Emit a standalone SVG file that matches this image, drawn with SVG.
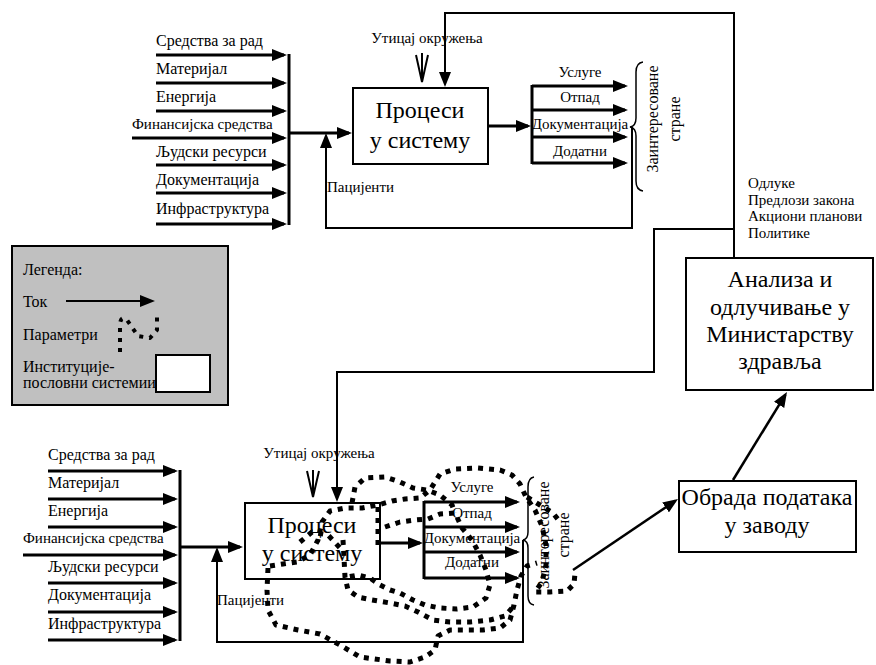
<svg xmlns="http://www.w3.org/2000/svg" width="876" height="665" viewBox="0 0 876 665">
<style>
text{font-family:"Liberation Serif","Times New Roman",serif;fill:#000}
.lbl{font-size:16px}
.fin{font-size:15px}
.sm{font-size:15px}
.mid{text-anchor:middle}
.big{font-size:24px;text-anchor:middle}
.box{fill:#fff;stroke:#000;stroke-width:2}
.flow{fill:none;stroke:#000;stroke-width:3;marker-end:url(#ah)}
.bar{fill:none;stroke:#000;stroke-width:3}
.linka{fill:none;stroke:#000;stroke-width:2;marker-end:url(#ah)}
.open{fill:none;stroke:#000;stroke-width:2}
.brace{fill:none;stroke:#000;stroke-width:1.5}
.dots{fill:none;stroke:#000;stroke-width:5;stroke-dasharray:5 6;stroke-linejoin:round}
</style>
<defs>
<marker id="ah" markerUnits="userSpaceOnUse" markerWidth="15" markerHeight="12" refX="12" refY="6" orient="auto">
<path d="M0,0 L15,6 L0,12 z" fill="#000"/>
</marker>
</defs>

<!-- legend -->
<g id="legend">
<rect x="12" y="246" width="216" height="159" fill="#c0c0c0" stroke="#000" stroke-width="2"/>
<text class="lbl" x="23" y="275">Легенда:</text>
<text class="lbl" x="23" y="307">Ток</text>
<path class="linka" d="M66,301 H152"/>
<text class="lbl" x="23" y="340">Параметри</text>
<path class="dots" style="stroke-width:4;stroke-dasharray:4 6" d="M120,352 L120,324 Q121,315 127,320 L138,336 L150,338 L157,330 L157,316"/>
<text class="lbl" x="23" y="372">Институције-</text>
<text class="lbl" x="23" y="388">пословни системии</text>
<rect x="156" y="355" width="54" height="37" fill="#fff" stroke="#000" stroke-width="2"/>
</g>

<!-- upper system: inputs -->
<g id="inputs-top">
<text class="lbl" x="156" y="46">Средства за рад</text>
<text class="lbl" x="156" y="74">Материјал</text>
<text class="lbl" x="156" y="102">Енергија</text>
<text class="fin" x="132" y="129">Финансијска средства</text>
<text class="lbl" x="156" y="157">Људски ресурси</text>
<text class="lbl" x="156" y="185">Документација</text>
<text class="lbl" x="156" y="214">Инфраструктура</text>
</g>

<!-- lower system: inputs -->
<g id="inputs-bottom">
<text class="lbl" x="48" y="460">Средства за рад</text>
<text class="lbl" x="48" y="488">Материјал</text>
<text class="lbl" x="48" y="516">Енергија</text>
<text class="fin" x="23" y="543">Финансијска средства</text>
<text class="lbl" x="48" y="572">Људски ресурси</text>
<text class="lbl" x="48" y="600">Документација</text>
<text class="lbl" x="48" y="629">Инфраструктура</text>
</g>

<g id="process-top">
<rect class="box" x="353" y="88" width="135" height="76"/>
<text class="big" x="420" y="118">Процеси</text>
<text class="big" x="420" y="148">у систему</text>
<text class="sm mid" x="427" y="43">Утицај окружења</text>
<text class="sm" x="327" y="192">Пацијенти</text>
</g>

<g id="outputs-top">
<text class="sm mid" x="580" y="77">Услуге</text>
<text class="sm mid" x="580" y="102">Отпад</text>
<text class="sm mid" x="580" y="129">Документација</text>
<text class="sm mid" x="580" y="156">Додатни</text>
<path class="brace" d="M643,62 Q636,63 636,72 V118 Q636,126 630,127 Q636,128 636,136 V181 Q636,190 643,191"/>
<text class="lbl mid" transform="translate(658,119) rotate(-90)">Заинтересоване</text>
<text class="lbl mid" transform="translate(680,119) rotate(-90)">стране</text>
</g>

<g id="process-bottom">
<rect class="box" x="245" y="503" width="135" height="76"/>
<text class="big" x="312" y="533">Процеси</text>
<text class="big" x="312" y="561">у систему</text>
<text class="sm mid" x="319" y="458">Утицај окружења</text>
<text class="sm" x="217" y="605">Пацијенти</text>
</g>

<g id="outputs-bottom">
<text class="sm mid" x="472" y="492">Услуге</text>
<text class="sm mid" x="472" y="518">Отпад</text>
<text class="sm mid" x="472" y="543">Документација</text>
<text class="sm mid" x="472" y="567">Додатни</text>
<path class="brace" d="M534,477 Q528,478 528,487 V532 Q528,539 523,540 Q528,541 528,548 V596 Q528,604 534,605"/>
<text class="lbl mid" transform="translate(549,535) rotate(-90)">Заинтересоване</text>
<text class="lbl mid" transform="translate(569,535) rotate(-90)">стране</text>
</g>

<g id="decisions">
<text class="sm" x="748" y="188">Одлуке</text>
<text class="sm" x="748" y="205">Предлози закона</text>
<text class="sm" x="748" y="221">Акциони планови</text>
<text class="sm" x="748" y="238">Политике</text>
</g>

<g id="ministry">
<rect class="box" x="686" y="258" width="187" height="132"/>
<text class="big" x="780" y="287">Анализа и</text>
<text class="big" x="780" y="315">одлучивање у</text>
<text class="big" x="780" y="342">Министарству</text>
<text class="big" x="780" y="369">здравља</text>
</g>

<g id="institute">
<rect class="box" x="679" y="481" width="177" height="71"/>
<text class="big" x="767" y="505">Обрада података</text>
<text class="big" x="767" y="533">у заводу</text>
</g>

<g id="connectors">
<!-- upper inputs -->
<path class="flow" d="M156,55 H284"/>
<path class="flow" d="M156,83 H284"/>
<path class="flow" d="M156,111 H284"/>
<path class="flow" d="M132,138 H284"/>
<path class="flow" d="M156,165 H284"/>
<path class="flow" d="M156,193 H284"/>
<path class="flow" d="M156,224 H284"/>
<path class="bar" d="M289,54 V225"/>
<path class="flow" d="M289,133 H349"/>
<path class="linka" d="M632,127 V228 H326 V136"/>
<!-- upper outputs -->
<path class="flow" d="M488,126 H528"/>
<path class="bar" d="M532,85 V164"/>
<path class="flow" d="M532,86 H625"/>
<path class="flow" d="M532,110 H625"/>
<path class="flow" d="M532,137 H625"/>
<path class="flow" d="M532,163 H625"/>
<!-- environment influence and decisions fed back -->
<path class="open" d="M422,53 V82 M416,55 L422,82 L428,55"/>
<path class="linka" d="M734,258 V13 H445 V84"/>
<path class="linka" d="M734,229 H654 V372 H337 V499"/>
<!-- lower inputs -->
<path class="flow" d="M48,471 H175"/>
<path class="flow" d="M48,499 H175"/>
<path class="flow" d="M48,527 H175"/>
<path class="flow" d="M23,555 H175"/>
<path class="flow" d="M48,583 H175"/>
<path class="flow" d="M48,612 H175"/>
<path class="flow" d="M48,640 H175"/>
<path class="bar" d="M180,470 V641"/>
<path class="flow" d="M180,547 H240"/>
<path class="linka" d="M523,540 V642 H217 V550"/>
<!-- lower outputs -->
<path class="flow" d="M380,543 H420"/>
<path class="bar" d="M424,501 V579"/>
<path class="flow" d="M424,502 H517"/>
<path class="flow" d="M424,527 H517"/>
<path class="flow" d="M424,552 H517"/>
<path class="flow" d="M424,578 H517"/>
<path class="open" d="M313,470 V497 M307,471 L313,497 L319,471"/>
<!-- reporting chain -->
<path class="linka" style="stroke-width:2.5" d="M573,570 L675.5,500.7"/>
<path class="linka" style="stroke-width:2.5" d="M733,480 L785.4,394.6"/>
</g>

<!-- parameters traced over the lower system -->
<g id="parameters">
<path class="dots" d="M268,568 L267,590 L268,610 L276,625 L298,630 L320,634 L340,645 L360,657 L390,661 L410,662 L425,657 L435,650 L438,636 L450,630 L483,630 L500,628 L510,620 L514,605 L517,590 L521,576 L527,566 L537,563"/>
<path class="dots" d="M270,566 L283,564 L297,562 L310,555 L318,540 L322,522 L330,511 L345,508 L362,508 L378,505 L392,501 L405,499 L420,498 L430,490 L440,474 L455,469 L477,468 L500,470 L512,475 L520,484 L526,497 L535,510 L542,526 L546,545 L546,565 L542,582 L535,592 L550,592 L567,591 L574,584 L575,573"/>
<path class="dots" d="M352,503 L355,487 L365,478 L385,477 L400,482 L413,488 L427,490 L440,495 L452,505 L455,513"/>
<path class="dots" d="M385,527 L400,522 L415,520 L428,519 L440,514 L455,513 L462,528 L472,540 L480,555 L486,570 L490,585 L486,598 L473,607 L457,609 L440,608 L425,605 L413,600 L400,593 L390,590 L380,585 L370,578 L358,575 L347,577"/>
<path class="dots" d="M343,540 L344,558 L345,577 L348,590 L358,597 L372,600 L390,603 L405,606 L418,612 L433,620 L450,622 L470,622 L490,620 L505,616 L512,608"/>
<path class="dots" d="M378,507 L378,548"/>
<path class="dots" d="M300,542 L312,532 L328,535 L340,548"/>
<path class="dots" d="M527,497 L540,505 L553,513 L560,522"/>
</g>
</svg>
